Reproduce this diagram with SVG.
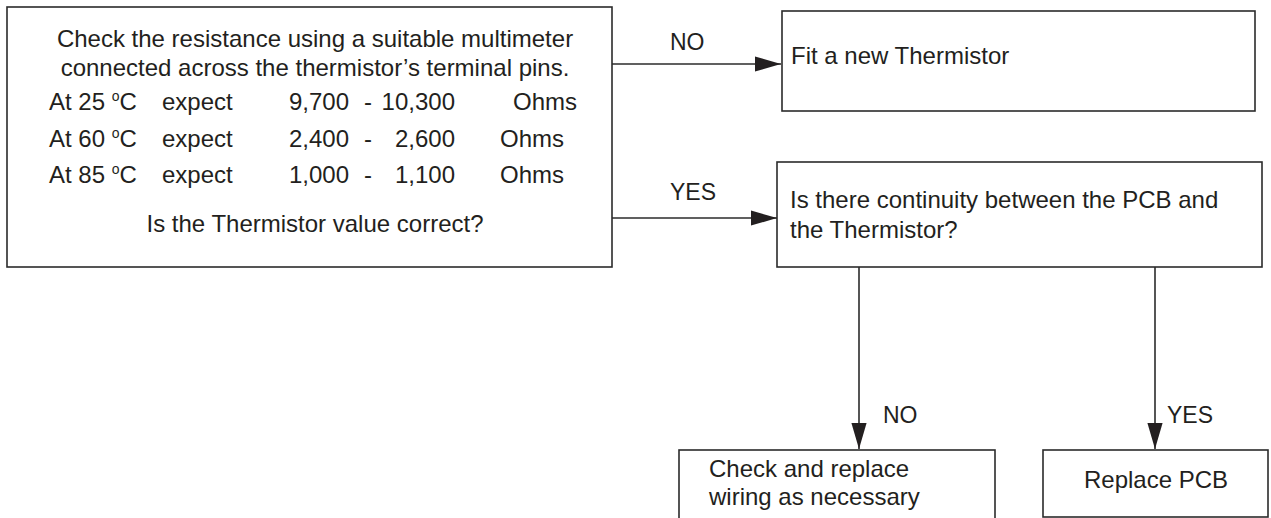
<svg xmlns="http://www.w3.org/2000/svg" width="1271" height="518" viewBox="0 0 1271 518">
<defs>
<style>
.box{fill:#fff;stroke:#2b2b2b;stroke-width:1.6}
.t{font-family:"Liberation Sans",Arial,sans-serif;font-size:24px;fill:#231f20}
.m{text-anchor:middle}
.e{text-anchor:end}
.deg{font-size:14px}
.lbl{font-family:"Liberation Sans",Arial,sans-serif;font-size:23px;fill:#231f20}
.c{fill:none;stroke:#2b2b2b;stroke-width:1.6}
</style>
<marker id="ah" markerUnits="userSpaceOnUse" markerWidth="26" markerHeight="16" viewBox="0 0 24 14" refX="24" refY="7" orient="auto">
<path d="M0,0 L24,7 L0,14 z" fill="#231f20"/>
</marker>
</defs>
<rect width="1271" height="518" fill="#fff"/>
<g id="check-resistance">
<rect class="box" x="7" y="7" width="605" height="260"/>
<text class="t m" x="315" y="47">Check the resistance using a suitable multimeter</text>
<text class="t m" x="315" y="76">connected across the thermistor’s terminal pins.</text>
<text class="t" x="49" y="110">At 25 <tspan class="deg" dy="-9">o</tspan><tspan dy="9">C</tspan></text>
<text class="t" x="162" y="110">expect</text>
<text class="t e" x="349" y="110">9,700</text><text class="t m" x="368" y="110">-</text><text class="t e" x="455" y="110">10,300</text>
<text class="t" x="513" y="110">Ohms</text>
<text class="t" x="49" y="147">At 60 <tspan class="deg" dy="-9">o</tspan><tspan dy="9">C</tspan></text>
<text class="t" x="162" y="147">expect</text>
<text class="t e" x="349" y="147">2,400</text><text class="t m" x="368" y="147">-</text><text class="t e" x="455" y="147">2,600</text>
<text class="t" x="500" y="147">Ohms</text>
<text class="t" x="49" y="183">At 85 <tspan class="deg" dy="-9">o</tspan><tspan dy="9">C</tspan></text>
<text class="t" x="162" y="183">expect</text>
<text class="t e" x="349" y="183">1,000</text><text class="t m" x="368" y="183">-</text><text class="t e" x="455" y="183">1,100</text>
<text class="t" x="500" y="183">Ohms</text>
<text class="t m" x="315" y="232">Is the Thermistor value correct?</text>
</g>
<g id="fit-thermistor">
<rect class="box" x="782" y="11" width="473" height="100"/>
<text class="t" x="791" y="64">Fit a new Thermistor</text>
</g>
<g id="continuity">
<rect class="box" x="777" y="162" width="485" height="105"/>
<text class="t" x="790" y="208">Is there continuity between the PCB and</text>
<text class="t" x="790" y="238">the Thermistor?</text>
</g>
<g id="check-wiring">
<rect class="box" x="679" y="450" width="316" height="80"/>
<text class="t" x="709" y="477">Check and replace</text>
<text class="t" x="709" y="505">wiring as necessary</text>
</g>
<g id="replace-pcb">
<rect class="box" x="1043" y="450" width="225" height="67"/>
<text class="t m" x="1156" y="488">Replace PCB</text>
</g>
<g id="connectors">
<line class="c" x1="612" y1="64" x2="781" y2="64" marker-end="url(#ah)"/>
<line class="c" x1="612" y1="218" x2="777" y2="218" marker-end="url(#ah)"/>
<line class="c" x1="859" y1="267" x2="859" y2="449" marker-end="url(#ah)"/>
<line class="c" x1="1155" y1="267" x2="1155" y2="449" marker-end="url(#ah)"/>
<text class="lbl" x="670" y="50">NO</text>
<text class="lbl" x="670" y="200">YES</text>
<text class="lbl" x="883" y="423">NO</text>
<text class="lbl" x="1167" y="423">YES</text>
</g>
</svg>
